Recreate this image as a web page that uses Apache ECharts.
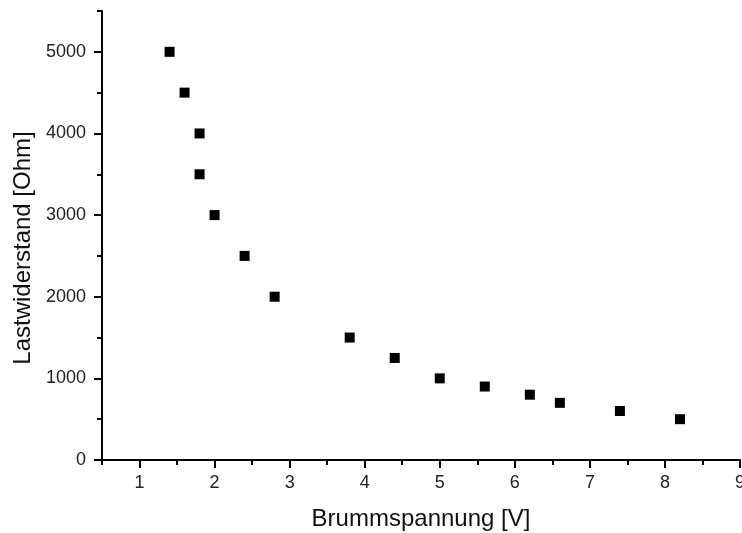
<!DOCTYPE html>
<html>
<head>
<meta charset="utf-8">
<script src="https://cdn.jsdelivr.net/npm/echarts@6/dist/echarts.min.js"></script>
<style>html,body{margin:0;padding:0;background:#fff;}#c{width:742px;height:533px;}</style>
</head>
<body>
<div id="c"></div>
<script>
var brummspannung = [1.4, 1.6, 1.8, 1.8, 2.0, 2.4, 2.8, 3.8, 4.4, 5.0, 5.6, 6.2, 6.6, 7.4, 8.2];
var lastwiderstand = [5000, 4500, 4000, 3500, 3000, 2500, 2000, 1500, 1250, 1000, 900, 800, 700, 600, 500];
var xMajorTicks = [1, 2, 3, 4, 5, 6, 7, 8, 9];
var xMinorTicks = [0.5, 1.5, 2.5, 3.5, 4.5, 5.5, 6.5, 7.5, 8.5];
var yMajorTicks = [0, 1000, 2000, 3000, 4000, 5000];
var yMinorTicks = [500, 1500, 2500, 3500, 4500, 5500];
var xTitle = 'Brummspannung [V]';
var yTitle = 'Lastwiderstand [Ohm]';

var FONT = '"Liberation Sans", Arial, sans-serif';
var lineStyle = {color: '#000', width: 2};
var chart = echarts.init(document.getElementById('c'), null, {renderer: 'canvas'});
var data = brummspannung.map(function (x, i) { return [x, lastwiderstand[i]]; });
var plain = function (v) { return String(v); };

chart.setOption({
  animation: false,
  backgroundColor: '#fff',
  grid: {left: 102, right: 2, top: 11, bottom: 73, containLabel: false, outerBoundsMode: 'none'},
  xAxis: [{
    type: 'value', min: 0.5, max: 9, position: 'bottom',
    axisLine: {show: true, onZero: false, lineStyle: lineStyle},
    axisTick: {show: true, inside: false, length: 8, lineStyle: lineStyle, customValues: xMajorTicks},
    axisLabel: {show: true, margin: 14, fontSize: 18, color: '#222', fontFamily: FONT, customValues: xMajorTicks, formatter: plain, hideOverlap: false},
    splitLine: {show: false},
    name: xTitle, nameLocation: 'middle', nameGap: 47,
    nameTextStyle: {fontSize: 24, color: '#111', fontFamily: FONT}
  }, {
    type: 'value', min: 0.5, max: 9, position: 'bottom', gridIndex: 0,
    axisLine: {show: false, onZero: false},
    axisTick: {show: true, inside: false, length: 5, lineStyle: lineStyle, customValues: xMinorTicks},
    axisLabel: {show: false},
    splitLine: {show: false}
  }],
  yAxis: [{
    type: 'value', min: 0, max: 5500, position: 'left',
    axisLine: {show: true, onZero: false, lineStyle: lineStyle},
    axisTick: {show: true, inside: false, length: 8, lineStyle: lineStyle, customValues: yMajorTicks},
    axisLabel: {show: true, margin: 16, fontSize: 18, color: '#222', fontFamily: FONT, customValues: yMajorTicks, formatter: plain},
    splitLine: {show: false}
  }, {
    type: 'value', min: 0, max: 5500, position: 'left',
    axisLine: {show: false, onZero: false},
    axisTick: {show: true, inside: false, length: 5, lineStyle: lineStyle, customValues: yMinorTicks},
    axisLabel: {show: false},
    splitLine: {show: false}
  }],
  graphic: [{
    type: 'text', x: 23, y: 248, rotation: Math.PI / 2,
    style: {text: yTitle, font: '24px ' + FONT, fill: '#111', textAlign: 'center', textVerticalAlign: 'middle'}
  }],
  series: [{
    type: 'scatter', xAxisIndex: 0, yAxisIndex: 0,
    symbol: 'rect', symbolSize: 10,
    itemStyle: {color: '#000', opacity: 1},
    emphasis: {disabled: true},
    data: data
  }]
});
</script>
</body>
</html>
